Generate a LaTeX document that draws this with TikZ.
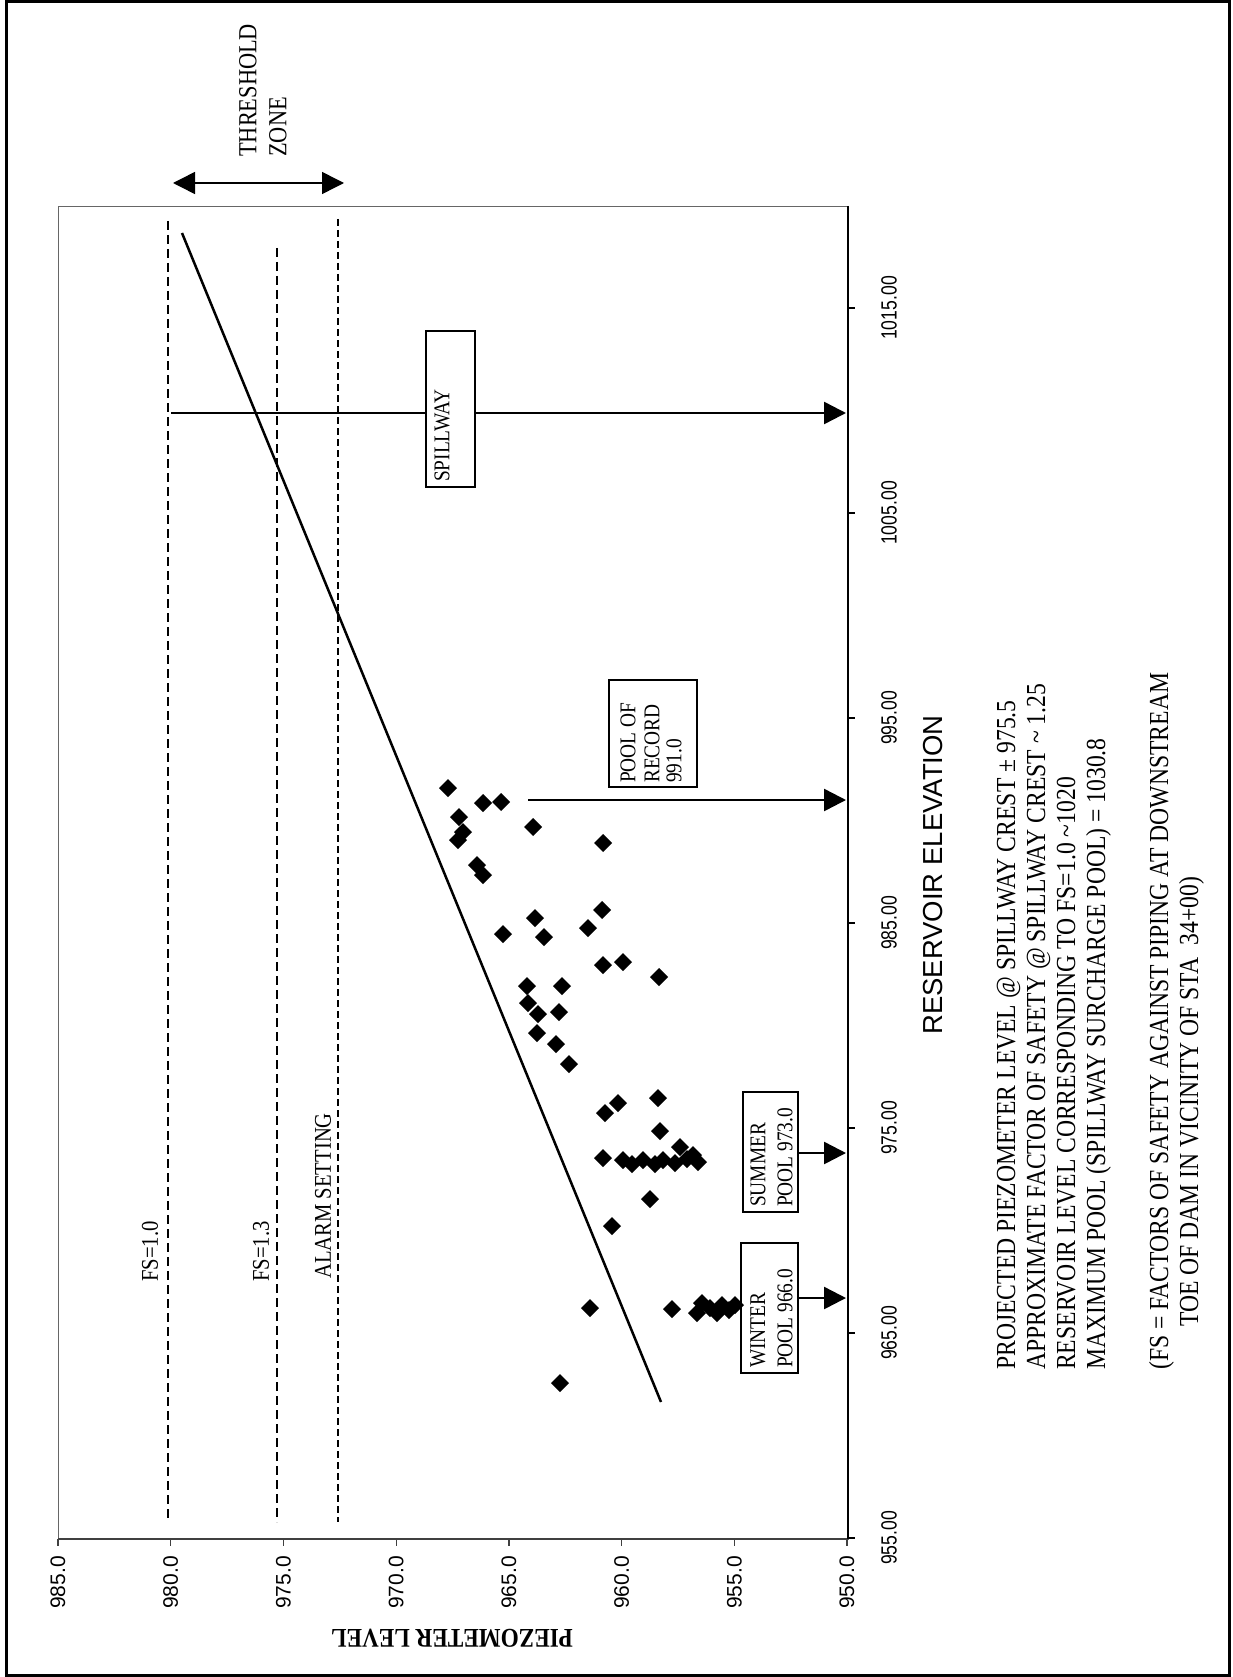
\documentclass[tikz,border=0pt]{standalone}
\usepackage{fontspec}
\setmainfont[FakeStretch=0.86]{Liberation Serif}
\newfontfamily\arialf{Liberation Sans}
\newfontfamily\narrowsf[FakeStretch=0.8]{Liberation Sans}
\usetikzlibrary{arrows.meta}
\begin{document}
\begin{tikzpicture}[x=1pt,y=-1pt,
  lbl/.style={rotate=90, inner sep=0pt, anchor=west, font=\fontsize{24}{28}\selectfont},
  boxt/.style={rotate=90, inner sep=0pt, anchor=west, font=\fontsize{22.5}{26}\selectfont},
  leg/.style={rotate=90, inner sep=0pt, anchor=base west, font=\fontsize{27.5}{30}\selectfont},
  boxr/.style={draw, line width=2.5pt, fill=white, inner sep=0pt},
  tip/.tip={Triangle[length=22pt,width=22pt]},
  arr/.style={line width=2.5pt, -tip},
  dsh/.style={line width=2.5pt, dash pattern=on 9pt off 5pt},
  plab/.style={rotate=90, inner sep=0pt, anchor=east, font=\arialf\fontsize{21}{24}\selectfont},
  elab/.style={rotate=90, inner sep=0pt, font=\narrowsf\fontsize{22}{24}\selectfont}
]
\useasboundingbox (0,0) rectangle (1233,1677);
\draw[line width=3pt] (6,2) rectangle (1229,1675);

% plot area
\draw[line width=0.8pt, black!60] (58,206) rectangle (848,1539);
\draw[line width=1.2pt, black!75] (58,1539) -- (848,1539);
\draw[line width=1.8pt] (848,206) -- (848,1539);

% elevation axis
\foreach \v/\y [count=\i] in {955.00/1538, 965.00/1333, 975.00/1128, 985.00/923, 995.00/718, 1005.00/513, 1015.00/308} {
  \draw[line width=1.2pt] (848,\y) -- (855,\y);
  \node[elab] (el\i) at (889,\y) {\v};
}
% piezometer axis
\foreach \v/\x [count=\i] in {985.0/58, 980.0/170.7, 975.0/283.4, 970.0/396.1, 965.0/508.9, 960.0/621.6, 955.0/734.3, 950.0/847} {
  \draw[line width=1.2pt, black!75] (\x,1539) -- (\x,1546);
  \node[plab] (pl\i) at (\x,1556) {\v};
}
\node[rotate=180, inner sep=0pt, font=\bfseries\fontsize{27}{30}\selectfont] (ylab) at (452,1638) {PIEZOMETER LEVEL};
\node[rotate=90, inner sep=0pt, font=\arialf\fontsize{27.5}{30}\selectfont] (xlab) at (933,875) {RESERVOIR ELEVATION};

% reference lines
\draw[dsh] (168,221) -- (168,1522);
\draw[dsh] (277,248) -- (277,1522);
\draw[line width=2.3pt, dash pattern=on 7pt off 4pt] (338,219) -- (338,1522);
\node[lbl] (fs1) at (150,1282) {FS=1.0};
\node[lbl] (fs13) at (261,1282) {FS=1.3};
\node[lbl] (alarm) at (323,1279) {ALARM SETTING};

% trend line
\draw[line width=2.5pt] (182,233) -- (661,1402);

% threshold zone
\coordinate (thL) at (173,183);
\coordinate (thR) at (344,183);
\draw[line width=1.5pt, tip-tip] (thL) -- (thR);
\node[lbl, font=\fontsize{26}{30}\selectfont] (thr1) at (248,157) {THRESHOLD};
\node[lbl, font=\fontsize{26}{30}\selectfont] (thr2) at (278,157) {ZONE};

% spillway
\coordinate (spS) at (171,413);
\coordinate (spE) at (846,413);
\draw[arr] (spS) -- (spE);
\node[boxr, minimum width=49pt, minimum height=156pt] (spbox) at (450.5,409) {};
\node[boxt] (sptxt) at (442,482) {SPILLWAY};

% pool of record
\coordinate (prS) at (528,800);
\coordinate (prE) at (846,800);
\draw[arr] (prS) -- (prE);
\node[boxr, minimum width=88pt, minimum height=107pt] (prbox) at (653,733.5) {};
\node[boxt] (pr1) at (628,783) {POOL OF};
\node[boxt] (pr2) at (652,783) {RECORD};
\node[boxt] (pr3) at (674,783) {991.0};

% summer pool
\node[boxr, minimum width=55pt, minimum height=120pt] (sumbox) at (770.5,1152) {};
\node[boxt] (su1) at (758,1207) {SUMMER};
\node[boxt] (su2) at (785,1207) {POOL 973.0};
\coordinate (suE) at (846,1153);
\draw[arr] (sumbox.east |- suE) -- (suE);

% winter pool
\node[boxr, minimum width=57pt, minimum height=130pt] (winbox) at (769.5,1308) {};
\node[boxt] (wi1) at (758,1368) {WINTER};
\node[boxt] (wi2) at (785,1368) {POOL 966.0};
\coordinate (wiE) at (846,1298);
\draw[arr] (winbox.east |- wiE) -- (wiE);

% data points
\foreach \a/\b in {448/788, 483/803, 501/802, 459/817, 463/832, 458/840, 533/827, 603/843,
  477/865, 483/875, 535/918, 602/910, 588/928, 503/934, 544/937, 603/965, 623/962,
  527/986, 562/986, 659/977, 528/1003, 538/1014, 559/1012, 537/1033, 556/1044, 569/1064,
  618/1103, 605/1113, 658/1098, 660/1131,
  603/1158, 623/1160, 632/1164, 643/1160, 655/1164, 663/1160, 675/1163, 680/1147, 687/1159, 693/1155, 698/1162,
  650/1199, 612/1226,
  590/1308, 672/1309, 697/1313, 702/1303, 710/1308, 717/1313, 722/1305, 729/1310, 735/1305,
  560/1383} {
  \fill (\a,\b) +(-9,0) -- +(0,-9) -- +(9,0) -- +(0,9) -- cycle;
}

% legend
\node[leg] (lg1) at (1015,1370) {PROJECTED PIEZOMETER LEVEL @ SPILLWAY CREST ± 975.5};
\node[leg] (lg2) at (1045,1370) {APPROXIMATE FACTOR OF SAFETY @ SPILLWAY CREST \textasciitilde{} 1.25};
\node[leg] (lg3) at (1075,1370) {RESERVOIR LEVEL CORRESPONDING TO FS=1.0 \textasciitilde1020};
\node[leg] (lg4) at (1105,1370) {MAXIMUM POOL (SPILLWAY SURCHARGE POOL) = 1030.8};
\node[leg] (lg5) at (1168,1370) {(FS = FACTORS OF SAFETY AGAINST PIPING AT DOWNSTREAM};
\node[leg] (lg6) at (1198,1327) {TOE OF DAM IN VICINITY OF STA\ \ 34+00)};
\end{tikzpicture}
\end{document}
